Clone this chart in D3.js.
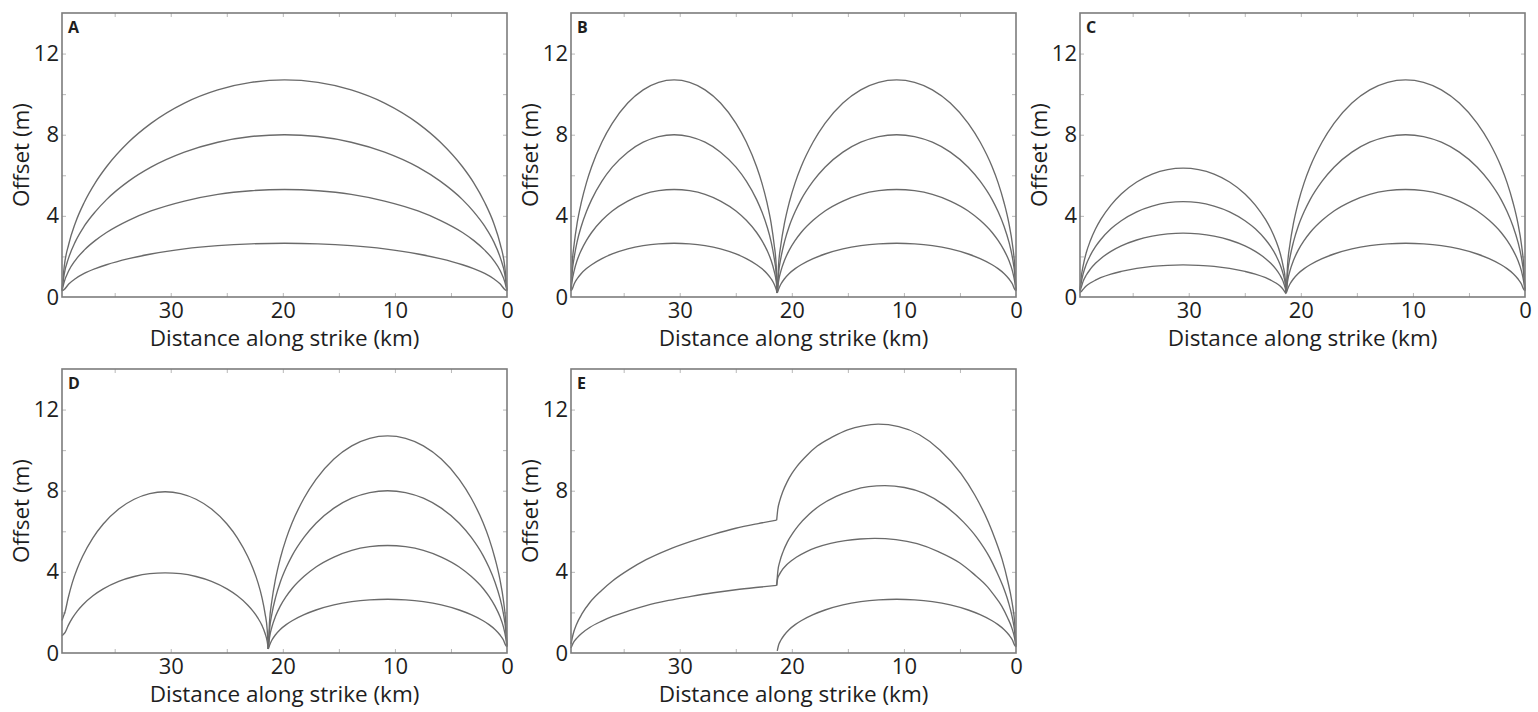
<!DOCTYPE html>
<html>
<head>
<meta charset="utf-8">
<script src="https://cdn.jsdelivr.net/npm/d3@7"></script>
<style>
  html, body { margin: 0; padding: 0; background: #fff; }
  svg { display: block; }
</style>
</head>
<body>
<svg id="chart" width="1538" height="712"></svg>
<script>
// ---- Tick values ----
const xTickLabels = [30, 20, 10, 0];             // km, labelled
const xTickMarks  = [35, 30, 25, 20, 15, 10, 5]; // km, small inward ticks
const yTickLabels = [0, 4, 8, 12];               // m, labelled
const yTickMarks  = [2, 4, 6, 8, 10, 12];        // m, small inward ticks

// ---- Along-strike positions (km) ----
// single rupture spanning the whole fault
const xWhole = [0, 0.2, 0.6, 1.19, 1.99, 2.98, 3.97, 5.96, 7.94, 10.92, 13.9, 16.87, 19.85,
                22.83, 25.8, 28.78, 31.76, 33.75, 35.73, 36.72, 37.72, 38.51, 39.1, 39.5, 39.7];
// segment between the step (21.3 km) and the far end
const xFar   = [21.3, 21.39, 21.58, 21.85, 22.22, 22.68, 23.14, 24.06, 24.98, 26.36, 27.74, 29.12, 30.5,
                31.88, 33.26, 34.64, 36.02, 36.94, 37.86, 38.32, 38.78, 39.15, 39.42, 39.61, 39.7];
// segment between 0 km and the step
const xNear  = [0, 0.11, 0.32, 0.64, 1.07, 1.6, 2.13, 3.2, 4.26, 5.86, 7.46, 9.05, 10.65,
                12.25, 13.85, 15.44, 17.04, 18.1, 19.17, 19.7, 20.23, 20.65, 20.97, 21.19, 21.3];

// ---- Panel A: offsets (m) on xWhole ----
const a1 = [0.35, 1.51, 2.60, 3.65, 4.66, 5.64, 6.42, 7.64, 8.56, 9.56, 10.21, 10.58, 10.70,
            10.58, 10.21, 9.56, 8.56, 7.64, 6.42, 5.64, 4.66, 3.65, 2.60, 1.51, 0.35];
const a2 = [0.35, 1.13, 1.94, 2.73, 3.49, 4.21, 4.80, 5.71, 6.40, 7.14, 7.63, 7.91, 8.00,
            7.91, 7.63, 7.14, 6.40, 5.71, 4.80, 4.21, 3.49, 2.73, 1.94, 1.13, 0.35];
const a3 = [0.30, 0.75, 1.29, 1.81, 2.31, 2.79, 3.18, 3.78, 4.24, 4.73, 5.06, 5.24, 5.30,
            5.24, 5.06, 4.73, 4.24, 3.78, 3.18, 2.79, 2.31, 1.81, 1.29, 0.75, 0.30];
const a4 = [0.30, 0.37, 0.64, 0.90, 1.16, 1.40, 1.59, 1.89, 2.12, 2.37, 2.53, 2.62, 2.65,
            2.62, 2.53, 2.37, 2.12, 1.89, 1.59, 1.40, 1.16, 0.90, 0.64, 0.37, 0.30];

// ---- Near segment offsets on xNear (panels B, C, D) ----
const n1 = [0.35, 1.51, 2.60, 3.65, 4.66, 5.64, 6.42, 7.64, 8.56, 9.56, 10.21, 10.58, 10.70,
            10.58, 10.21, 9.56, 8.56, 7.64, 6.42, 5.64, 4.66, 3.65, 2.60, 1.51, 0.20];
const n2 = [0.35, 1.13, 1.94, 2.73, 3.49, 4.21, 4.80, 5.71, 6.40, 7.14, 7.63, 7.91, 8.00,
            7.91, 7.63, 7.14, 6.40, 5.71, 4.80, 4.21, 3.49, 2.73, 1.94, 1.13, 0.20];
const n3 = [0.30, 0.75, 1.29, 1.81, 2.31, 2.79, 3.18, 3.78, 4.24, 4.73, 5.06, 5.24, 5.30,
            5.24, 5.06, 4.73, 4.24, 3.78, 3.18, 2.79, 2.31, 1.81, 1.29, 0.75, 0.20];
const n4 = [0.30, 0.37, 0.64, 0.90, 1.16, 1.40, 1.59, 1.89, 2.12, 2.37, 2.53, 2.62, 2.65,
            2.62, 2.53, 2.37, 2.12, 1.89, 1.59, 1.40, 1.16, 0.90, 0.64, 0.37, 0.20];

// ---- Panel B: far segment offsets on xFar ----
const b1 = [0.20, 1.51, 2.60, 3.65, 4.66, 5.64, 6.42, 7.64, 8.56, 9.56, 10.21, 10.58, 10.70,
            10.58, 10.21, 9.56, 8.56, 7.64, 6.42, 5.64, 4.66, 3.65, 2.60, 1.51, 0.35];
const b2 = [0.20, 1.13, 1.94, 2.73, 3.49, 4.21, 4.80, 5.71, 6.40, 7.14, 7.63, 7.91, 8.00,
            7.91, 7.63, 7.14, 6.40, 5.71, 4.80, 4.21, 3.49, 2.73, 1.94, 1.13, 0.35];
const b3 = [0.20, 0.75, 1.29, 1.81, 2.31, 2.79, 3.18, 3.78, 4.24, 4.73, 5.06, 5.24, 5.30,
            5.24, 5.06, 4.73, 4.24, 3.78, 3.18, 2.79, 2.31, 1.81, 1.29, 0.75, 0.30];
const b4 = [0.20, 0.37, 0.64, 0.90, 1.16, 1.40, 1.59, 1.89, 2.12, 2.37, 2.53, 2.62, 2.65,
            2.62, 2.53, 2.37, 2.12, 1.89, 1.59, 1.40, 1.16, 0.90, 0.64, 0.37, 0.30];

// ---- Panel C: far segment offsets on xFar ----
const c1 = [0.20, 0.90, 1.54, 2.17, 2.77, 3.35, 3.81, 4.53, 5.08, 5.67, 6.06, 6.28, 6.35,
            6.28, 6.06, 5.67, 5.08, 4.53, 3.81, 3.35, 2.77, 2.17, 1.54, 0.90, 0.35];
const c2 = [0.20, 0.66, 1.14, 1.60, 2.05, 2.48, 2.82, 3.36, 3.76, 4.20, 4.48, 4.65, 4.70,
            4.65, 4.48, 4.20, 3.76, 3.36, 2.82, 2.48, 2.05, 1.60, 1.14, 0.66, 0.35];
const c3 = [0.20, 0.44, 0.77, 1.07, 1.37, 1.66, 1.89, 2.25, 2.52, 2.81, 3.00, 3.11, 3.15,
            3.11, 3.00, 2.81, 2.52, 2.25, 1.89, 1.66, 1.37, 1.07, 0.77, 0.44, 0.30];
const c4 = [0.15, 0.22, 0.38, 0.54, 0.69, 0.83, 0.95, 1.13, 1.26, 1.41, 1.51, 1.56, 1.58,
            1.56, 1.51, 1.41, 1.26, 1.13, 0.95, 0.83, 0.69, 0.54, 0.38, 0.26, 0.22];

// ---- Panel D: far segment offsets on xFar ----
const d1 = [0.20, 1.12, 1.93, 2.71, 3.47, 4.19, 4.77, 5.68, 6.36, 7.10, 7.58, 7.86, 7.95,
            7.86, 7.58, 7.10, 6.36, 5.68, 4.77, 4.19, 3.47, 2.71, 2.05, 1.75, 1.60];
const d2 = [0.20, 0.56, 0.96, 1.35, 1.72, 2.08, 2.37, 2.82, 3.16, 3.53, 3.77, 3.91, 3.95,
            3.91, 3.77, 3.53, 3.16, 2.82, 2.37, 2.08, 1.72, 1.35, 1.02, 0.90, 0.85];

// ---- Panel E: each curve with its own positions ----
const eFarUpperX = [21.35, 23, 25, 27, 29, 31, 33, 34.5, 36, 37, 38, 38.7, 39.2, 39.5, 39.7];
const eFarUpper  = [6.55, 6.38, 6.15, 5.85, 5.5, 5.1, 4.6, 4.12, 3.55, 3.07, 2.5, 1.95, 1.42, 0.95, 0.45];
const eFarLowerX = [21.35, 23, 25, 27, 29, 31, 33, 34.5, 36, 37, 38, 38.7, 39.2, 39.5, 39.7];
const eFarLower  = [3.33, 3.24, 3.12, 2.97, 2.79, 2.59, 2.34, 2.09, 1.8, 1.56, 1.27, 0.99, 0.72, 0.5, 0.25];

const e1X = [0, 0.12, 0.37, 0.74, 1.23, 1.85, 2.46, 3.69, 4.92, 6.77, 8.61, 10.46, 12.3,
             13.66, 15.02, 16.37, 17.73, 18.64, 19.54, 19.99, 20.45, 20.81, 21.08, 21.26, 21.35];
const e1  = [0.4, 1.5, 2.55, 3.55, 4.6, 5.6, 6.45, 7.8, 8.85, 10.0, 10.76, 11.16, 11.28,
             11.2, 11.0, 10.65, 10.2, 9.75, 9.2, 8.85, 8.4, 7.95, 7.5, 7.05, 6.55];
const e2X = [0, 0.12, 0.35, 0.7, 1.17, 1.76, 2.34, 3.51, 4.68, 6.44, 8.19, 9.95, 11.7,
             13.15, 14.6, 16.04, 17.49, 18.46, 19.42, 19.9, 20.39, 20.77, 21.06, 21.25, 21.35];
const e2  = [0.35, 1.05, 1.8, 2.55, 3.3, 4.05, 4.7, 5.7, 6.45, 7.3, 7.87, 8.16, 8.25,
             8.2, 8.02, 7.72, 7.27, 6.84, 6.28, 5.92, 5.48, 5.01, 4.53, 4.02, 3.33];
const e3X = [0, 0.13, 0.38, 0.76, 1.26, 1.89, 2.52, 3.78, 5.04, 6.93, 8.82, 10.71, 12.6,
             13.91, 15.23, 16.54, 17.85, 18.73, 19.6, 20.04, 20.48, 20.83, 21.09, 21.27, 21.35];
const e3  = [0.3, 0.75, 1.25, 1.75, 2.3, 2.8, 3.25, 3.9, 4.45, 5.0, 5.39, 5.59, 5.65,
             5.62, 5.54, 5.4, 5.19, 4.99, 4.72, 4.55, 4.34, 4.12, 3.89, 3.66, 3.33];
const e4X = xNear;
const e4  = [0.30, 0.37, 0.64, 0.90, 1.16, 1.40, 1.59, 1.89, 2.12, 2.37, 2.53, 2.62, 2.65,
             2.62, 2.53, 2.37, 2.12, 1.89, 1.59, 1.40, 1.16, 0.90, 0.64, 0.37, 0.10];

// ---- Panel assembly ----
const pair = (xs, ys) => xs.map((x, i) => [x, ys[i]]);
const nearSet = [n1, n2, n3, n4].map(y => pair(xNear, y));
const panels = [
  { id: "A", col: 0, row: 0, series: [a1, a2, a3, a4].map(y => pair(xWhole, y)) },
  { id: "B", col: 1, row: 0, series: [b1, b2, b3, b4].map(y => pair(xFar, y)).concat(nearSet) },
  { id: "C", col: 2, row: 0, series: [c1, c2, c3, c4].map(y => pair(xFar, y)).concat(nearSet) },
  { id: "D", col: 0, row: 1, series: [d1, d2].map(y => pair(xFar, y)).concat(nearSet) },
  { id: "E", col: 1, row: 1, series: [
      pair(eFarUpperX, eFarUpper), pair(eFarLowerX, eFarLower),
      pair(e1X, e1), pair(e2X, e2), pair(e3X, e3), pair(e4X, e4) ] }
];

// ---- Layout ----
const colLeft = [62, 571, 1080];
const rowTop = [13, 369];
const plotW = 445, plotH = 284;
const font = "'Open Sans', 'Noto Sans', sans-serif";
const ink = "#1e1e1e";

const svg = d3.select("#chart");

panels.forEach(p => {
  const g = svg.append("g")
    .attr("transform", `translate(${colLeft[p.col]},${rowTop[p.row]})`);

  const x = d3.scaleLinear().domain([39.7, 0]).range([0, plotW]);
  const y = d3.scaleLinear().domain([0, 14]).range([plotH, 0]);

  // inward minor ticks on all four sides
  const tickLen = 4;
  const tickColor = "#b8b8b8";
  const styleTicks = a => {
    a.select(".domain").remove();
    a.selectAll("line").attr("stroke", tickColor);
  };
  g.append("g").attr("transform", `translate(0,${plotH})`)
    .call(d3.axisBottom(x).tickValues(xTickMarks).tickSize(-tickLen).tickFormat(""))
    .call(styleTicks);
  g.append("g")
    .call(d3.axisTop(x).tickValues(xTickMarks).tickSize(-tickLen).tickFormat(""))
    .call(styleTicks);
  g.append("g")
    .call(d3.axisLeft(y).tickValues(yTickMarks).tickSize(-tickLen).tickFormat(""))
    .call(styleTicks);
  g.append("g").attr("transform", `translate(${plotW},0)`)
    .call(d3.axisRight(y).tickValues(yTickMarks).tickSize(-tickLen).tickFormat(""))
    .call(styleTicks);

  // tick labels
  const styleLabels = a => {
    a.select(".domain").remove();
    a.selectAll("text").attr("font-family", font).attr("font-size", 22).attr("fill", ink);
  };
  g.append("g").attr("transform", `translate(0,${plotH})`)
    .call(d3.axisBottom(x).tickValues(xTickLabels).tickSize(0).tickPadding(5).tickFormat(d3.format("d")))
    .call(styleLabels);
  g.append("g")
    .call(d3.axisLeft(y).tickValues(yTickLabels).tickSize(0).tickPadding(3).tickFormat(d3.format("d")))
    .call(styleLabels);

  // offset profiles (points ordered left to right on screen)
  const line = d3.line()
    .x(d => x(d[0]))
    .y(d => y(d[1]))
    .curve(d3.curveMonotoneX);
  g.append("g")
    .selectAll("path")
    .data(p.series.map(s => s.slice().sort((u, v) => v[0] - u[0])))
    .join("path")
    .attr("d", line)
    .attr("fill", "none")
    .attr("stroke", "#6a6a6a")
    .attr("stroke-width", 1.35)
    .attr("stroke-linejoin", "round");

  // frame
  g.append("rect")
    .attr("width", plotW).attr("height", plotH)
    .attr("fill", "none")
    .attr("stroke", "#7c7c7c")
    .attr("stroke-width", 1.6);

  // panel letter
  g.append("text")
    .attr("x", 6).attr("y", 20)
    .attr("font-family", font).attr("font-weight", 700).attr("font-size", 16)
    .attr("fill", ink)
    .text(p.id);

  // axis titles
  g.append("text")
    .attr("x", plotW / 2).attr("y", plotH + 49)
    .attr("text-anchor", "middle")
    .attr("font-family", font).attr("font-size", 22.5).attr("fill", ink)
    .text("Distance along strike (km)");
  g.append("text")
    .attr("transform", `translate(-33,${plotH / 2}) rotate(-90)`)
    .attr("text-anchor", "middle")
    .attr("font-family", font).attr("font-size", 22.5).attr("fill", ink)
    .text("Offset (m)");
});
</script>
</body>
</html>
